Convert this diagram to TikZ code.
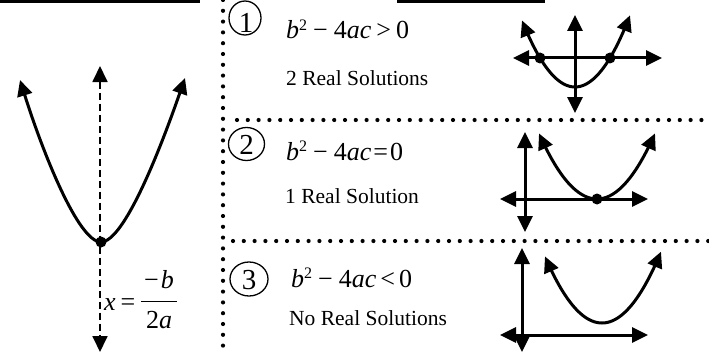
\documentclass[tikz,border=0pt]{standalone}
\usepackage{fontspec}
\setmainfont{Liberation Serif}
\usetikzlibrary{arrows.meta}
\begin{document}
\begin{tikzpicture}[x=1pt,y=-1pt,
  tipboth/.style={{Triangle[length=16pt,width=15pt]}-{Triangle[length=16pt,width=15pt]}},
  axisline/.style={line width=3pt, tipboth},
  curveline/.style={line width=3pt, tipboth},
  dotline/.style={line width=4.2pt, line cap=round, dash pattern=on 0pt off 10.8pt},
  rootdot/.style={circle, fill, inner sep=0pt, minimum size=11pt},
  numring/.style={line width=1.3pt},
  numtext/.style={anchor=base, inner sep=0pt, font=\fontsize{29}{32}\selectfont},
  formula/.style={anchor=base west, inner sep=0pt, font=\fontsize{26}{30}\selectfont},
  caption/.style={anchor=base west, inner sep=0pt, font=\fontsize{21.5}{25}\selectfont},
  fracpart/.style={anchor=base, inner sep=0pt, font=\fontsize{26}{30}\selectfont}
]
\useasboundingbox (0,0) rectangle (709,353);

% top bars (cut-off heading rules)
\fill (0,0) rectangle (200,3.5);
\fill (397,0) rectangle (545,3.5);

% dotted separators
\coordinate (vtop) at (223,0);
\coordinate (vbot) at (223,353);
\coordinate (h1a) at (237,120);
\coordinate (h1b) at (709,120);
\coordinate (h2a) at (233,241);
\coordinate (h2b) at (709,241);
\draw[dotline] (vtop) -- (vbot);
\draw[dotline] (h1a) -- (h1b);
\draw[dotline] (h2a) -- (h2b);

% ---------- left panel ----------
\coordinate (symtop) at (100,66);
\coordinate (symbot) at (100,352);
\draw[line width=1.8pt, dash pattern=on 7pt off 4pt, tipboth] (symtop) -- (symbot);
\coordinate (V) at (101,242);
\coordinate (Lt) at (20,80);
\coordinate (Rt) at (185,78);
\draw[curveline] (Lt) .. controls (42,150) and (78,242) .. (V)
                      .. controls (124,242) and (160,150) .. (Rt);
\node[rootdot] (vdot) at (V) {};
\node[fracpart, anchor=base west] (xeq) at (104,310) {\textit{x}\hspace{5pt}=};
\node[fracpart] (num) at (159,288) {−\hspace{2pt}\textit{b}};
\node[fracpart] (den) at (159,328) {2\textit{a}};
\coordinate (barL) at (141,301);
\coordinate (barR) at (177,301);
\draw[line width=1pt] (barL) -- (barR);

% ---------- case 1 ----------
\draw[numring] (245,18) ellipse [x radius=16pt, y radius=17pt];
\node[numtext] (n1) at (246,33) {1};
\node[formula] (f1) at (286,39) {\textit{b}\raisebox{8.5pt}{\fontsize{16}{16}\selectfont 2}\hspace{6pt}−\hspace{6pt}4\textit{ac}\hspace{5pt}>\hspace{5pt}0};
\node[caption] (c1) at (286,85) {2 Real Solutions};

\coordinate (g1l) at (513,58);
\coordinate (g1r) at (662,58);
\coordinate (g1t) at (575,15);
\coordinate (g1b) at (575,113);
\draw[axisline] (g1l) -- (g1r);
\draw[axisline] (g1t) -- (g1b);
\draw[curveline, domain=-53:55, samples=60] plot ({575+\x},{87-0.0237*\x*\x});
\node[rootdot] (r1a) at (540,58) {};
\node[rootdot] (r1b) at (610,58) {};

% ---------- case 2 ----------
\draw[numring] (246.5,144) ellipse [x radius=18pt, y radius=16.5pt];
\node[numtext] (n2) at (246.5,154) {2};
\node[formula] (f2) at (286,160) {\textit{b}\raisebox{8.5pt}{\fontsize{16}{16}\selectfont 2}\hspace{6pt}−\hspace{6pt}4\textit{ac}\hspace{2pt}=\hspace{2pt}0};
\node[caption] (c2) at (285,203) {1 Real Solution};

\coordinate (g2l) at (500,199);
\coordinate (g2r) at (648,199);
\coordinate (g2t) at (525,132);
\coordinate (g2b) at (525,232);
\draw[axisline] (g2l) -- (g2r);
\draw[axisline] (g2t) -- (g2b);
\draw[curveline, domain=-58:58, samples=60] plot ({597+\x},{199-0.0195*\x*\x});
\node[rootdot] (r2) at (597,199) {};

% ---------- case 3 ----------
\draw[numring] (249,279) ellipse [x radius=19pt, y radius=17pt];
\node[numtext] (n3) at (249,289) {3};
\node[formula] (f3) at (291,287) {\textit{b}\raisebox{8.5pt}{\fontsize{16}{16}\selectfont 2}\hspace{6pt}−\hspace{6pt}4\textit{ac}\hspace{4pt}<\hspace{4pt}0};
\node[caption] (c3) at (289,325) {No Real Solutions};

\coordinate (g3l) at (500,335);
\coordinate (g3r) at (648,335);
\coordinate (g3t) at (522,248);
\coordinate (g3b) at (522,352);
\draw[axisline] (g3l) -- (g3r);
\draw[axisline] (g3t) -- (g3b);
\draw[curveline, domain=-57:59, samples=60] plot ({602+\x},{323-0.0205*\x*\x});
\end{tikzpicture}
\end{document}
